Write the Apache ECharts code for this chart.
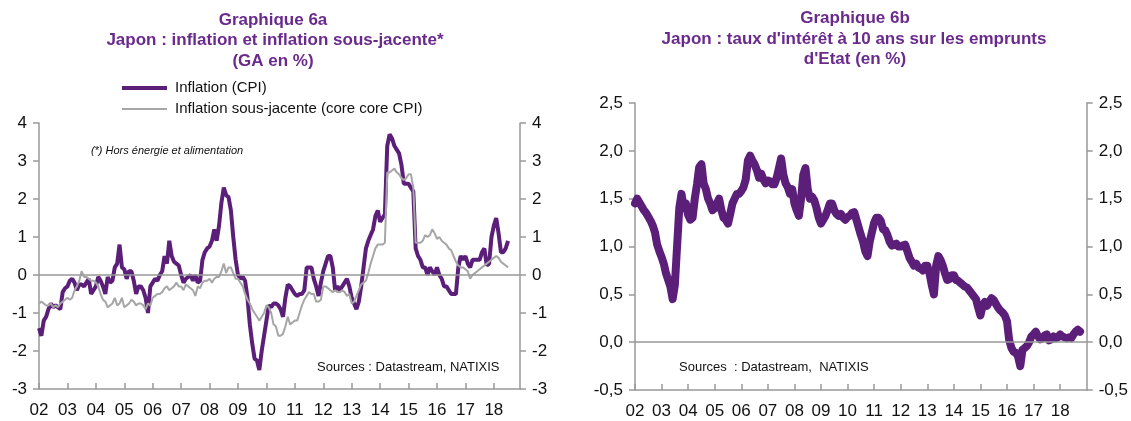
<!DOCTYPE html>
<html>
<head>
<meta charset="utf-8">
<script src="https://cdn.jsdelivr.net/npm/echarts@6/dist/echarts.min.js"></script>
<style>
  html, body { margin: 0; padding: 0; background: #fff; }
  #chart { width: 1131px; height: 421px; }
</style>
</head>
<body>
<div id="chart"></div>
<script>
// Graphique 6a : inflation (GA en %), mensuel, janv. 2002 -> juil. 2018
const cpiStart = 2002
const cpi = [
  -1.4, -1.6, -1.2, -1.1, -0.9, -0.75, -0.85, -0.8, -0.85, -0.9, -0.45, -0.35,
  -0.3, -0.15, -0.1, -0.2, -0.4, -0.25, -0.25, -0.3, -0.2, -0.1, -0.5, -0.4,
  -0.3, -0.05, -0.15, -0.3, -0.5, -0.05, -0.2, -0.15, 0.2, 0.3, 0.8, 0.2,
  0.15, -0.1, 0.1, 0.1, -0.15, -0.5, -0.3, -0.3, -0.4, -0.6, -1.0, -0.3,
  -0.2, -0.1, -0.15, 0.0, 0.1, 0.5, 0.3, 0.9, 0.5, 0.35, 0.3, 0.25,
  0.0, -0.2, -0.1, -0.05, 0.0, -0.15, 0.0, -0.2, -0.15, 0.4, 0.6, 0.7,
  0.75, 0.9, 1.2, 0.9, 1.3, 1.9, 2.3, 2.1, 2.05, 1.7, 1.0, 0.4,
  0.0, -0.1, -0.05, -0.15, -0.6, -1.3, -1.8, -2.2, -2.25, -2.5, -2.0, -1.6,
  -1.2, -0.8, -0.85, -0.75, -0.75, -0.8, -0.9, -1.1, -0.6, -0.25, -0.3, -0.4,
  -0.5, -0.55, -0.5, -0.5, -0.4, 0.2, 0.2, 0.2, -0.1, -0.3, -0.55, -0.2,
  0.1, 0.3, 0.5, 0.5, 0.2, -0.4, -0.3, -0.4, -0.3, -0.2, -0.1, -0.3,
  -0.6, -0.75, -0.9, -0.7, -0.3, 0.2, 0.7, 0.9, 1.05, 1.2, 1.55, 1.7,
  1.4, 1.5, 1.6, 3.4, 3.7, 3.6, 3.4, 3.3, 3.2, 2.9, 2.4, 2.4,
  2.4, 2.3, 2.2, 0.7, 0.5, 0.4, 0.2, 0.2, 0.0, 0.2, 0.1, 0.0,
  0.2, 0.0, -0.1, -0.3, -0.3, -0.4, -0.5, -0.5, -0.5, 0.2, 0.5, 0.4,
  0.5, 0.3, 0.2, 0.4, 0.4, 0.4, 0.4, 0.6, 0.7, 0.25, 0.3, 1.0,
  1.3, 1.5, 1.1, 0.6, 0.6, 0.7, 0.9
]
const coreCore = [
  -0.75, -0.7, -0.75, -0.8, -0.8, -0.75, -0.85, -0.8, -0.85, -0.75, -0.7, -0.65,
  -0.6, -0.65, -0.6, -0.4, -0.3, -0.15, 0.1, -0.05, -0.05, -0.1, -0.15, -0.15,
  -0.2, -0.3, -0.5, -0.65, -0.7, -0.85, -0.8, -0.75, -0.6, -0.8, -0.75, -0.6,
  -0.85, -0.8, -0.75, -0.65, -0.7, -0.8, -0.75, -0.75, -0.8, -0.9, -0.75, -0.8,
  -0.6, -0.55, -0.5, -0.5, -0.45, -0.35, -0.3, -0.4, -0.35, -0.3, -0.2, -0.3,
  -0.3, -0.4, -0.25, -0.3, -0.35, -0.4, -0.55, -0.3, -0.35, -0.2, -0.15, -0.15,
  -0.1, -0.2, -0.1, -0.05, -0.05, 0.1, 0.3, 0.05, 0.2, 0.2, 0.05, -0.1,
  -0.1, -0.2, -0.3, -0.5, -0.65, -0.75, -0.9, -1.0, -1.1, -1.2, -1.1, -1.0,
  -0.8, -0.85, -1.0, -1.3, -1.35, -1.6, -1.6, -1.55, -1.35, -1.1, -1.3, -1.25,
  -1.2, -1.2, -1.0, -0.8, -0.65, -0.55, -0.45, -0.5, -0.5, -0.7, -0.7, -0.65,
  -0.3, -0.3, -0.35, -0.4, -0.45, -0.4, -0.45, -0.45, -0.4, -0.45, -0.55, -0.5,
  -0.75, -0.7, -0.55, -0.4, -0.25, -0.2, -0.15, 0.05, 0.3, 0.5, 0.7, 0.8,
  0.8, 0.8, 0.85, 2.7, 2.7, 2.75, 2.8, 2.7, 2.65, 2.55, 2.5, 2.55,
  2.65, 2.65, 2.3, 0.85, 0.85, 0.85, 0.9, 1.05, 1.0, 1.05, 1.2, 1.1,
  0.95, 1.0, 0.9, 0.85, 0.8, 0.7, 0.65, 0.5, 0.35, 0.25, 0.2, 0.2,
  0.15, 0.1, -0.1, 0.0, 0.05, 0.1, 0.15, 0.2, 0.25, 0.3, 0.35, 0.4,
  0.45, 0.5, 0.45, 0.35, 0.3, 0.25, 0.2
]

// Graphique 6b : taux 10 ans (en %), mensuel, janv. 2002 -> oct. 2018
const yieldStart = 2002
const jgb10 = [
  1.45, 1.5, 1.46, 1.42, 1.38, 1.35, 1.31, 1.27, 1.22, 1.15, 1.02, 0.95,
  0.89, 0.82, 0.72, 0.65, 0.58, 0.45, 0.6, 1.0, 1.4, 1.55, 1.4, 1.45,
  1.33, 1.28, 1.3, 1.5, 1.65, 1.83, 1.86, 1.66, 1.6, 1.5, 1.45, 1.38,
  1.4, 1.45, 1.5, 1.38, 1.3, 1.28, 1.24, 1.34, 1.45, 1.5, 1.55, 1.55,
  1.58, 1.62, 1.7, 1.9, 1.95, 1.9, 1.86, 1.8, 1.72, 1.76, 1.7, 1.66,
  1.69, 1.68, 1.65, 1.65, 1.72, 1.82, 1.92, 1.75, 1.66, 1.62, 1.55, 1.6,
  1.45, 1.38, 1.32, 1.5, 1.75, 1.82, 1.6, 1.5, 1.52, 1.48, 1.4, 1.3,
  1.24, 1.28, 1.32, 1.38, 1.45, 1.45, 1.38, 1.34, 1.32, 1.34, 1.3, 1.28,
  1.31, 1.32, 1.35, 1.36, 1.28, 1.2, 1.12, 1.05, 0.95, 0.9, 1.05, 1.15,
  1.25, 1.3, 1.3, 1.27, 1.18, 1.17, 1.12, 1.05, 1.01, 1.02, 1.03, 1.0,
  1.0, 1.01, 1.02, 0.95, 0.88, 0.84, 0.8, 0.82, 0.78, 0.77, 0.75, 0.8,
  0.8, 0.72, 0.6, 0.5, 0.8, 0.9, 0.86, 0.8, 0.72, 0.65, 0.66, 0.7,
  0.7, 0.65, 0.64, 0.62, 0.6, 0.58, 0.57, 0.54, 0.51, 0.48, 0.45, 0.36,
  0.28, 0.38, 0.42, 0.38, 0.42, 0.46, 0.44, 0.4, 0.36, 0.33, 0.31, 0.28,
  0.22, 0.02, -0.06, -0.1, -0.11, -0.15, -0.25, -0.08, -0.06, -0.04, 0.0, 0.06,
  0.08, 0.11, 0.06, 0.03, 0.04, 0.07, 0.08, 0.02, 0.03, 0.06, 0.04, 0.05,
  0.08, 0.06, 0.05, 0.04, 0.05, 0.04, 0.08, 0.11, 0.13, 0.11
]

const yearTicks = ['02', '03', '04', '05', '06', '07', '08', '09', '10', '11', '12', '13', '14', '15', '16', '17', '18']

const purple = '#5b1f7a'
const titleColor = '#6a2a8c'
const grey = '#a6a6a6'
const axisGrey = '#999999'
const font = 'Liberation Sans, Arial, sans-serif'

// [année décimale, valeur]
function monthly (start, values) {
  return values.map((v, i) => [start + i / 12, v])
}

function xAxisFor (gridIndex, max) {
  return {
    type: 'value',
    gridIndex: gridIndex,
    min: 2002,
    max: max,
    interval: 1,
    axisLine: { show: true, onZero: false, lineStyle: { color: axisGrey, width: 1.5 } },
    axisTick: { show: true, inside: true, length: 6, lineStyle: { color: axisGrey, width: 1.5 } },
    axisLabel: {
      color: '#111',
      fontFamily: font,
      fontSize: 17,
      margin: 13,
      showMaxLabel: false,
      formatter: v => yearTicks[Math.round(v) - 2002] || ''
    },
    splitLine: { show: false }
  }
}

function yAxisFor (gridIndex, position, min, max, interval, fmt) {
  return {
    type: 'value',
    gridIndex: gridIndex,
    position: position,
    min: min,
    max: max,
    interval: interval,
    axisLine: { show: true, lineStyle: { color: axisGrey, width: 1.5 } },
    axisTick: { show: true, length: 6, lineStyle: { color: axisGrey, width: 1.5 } },
    axisLabel: { color: '#111', fontFamily: font, fontSize: 17, margin: 12, formatter: fmt },
    splitLine: { show: false }
  }
}

const intFmt = v => String(v)
const commaFmt = v => v.toFixed(1).replace('.', ',')

const zeroLine = {
  silent: true,
  symbol: 'none',
  label: { show: false },
  lineStyle: { color: axisGrey, width: 1.5, type: 'solid' },
  data: [{ yAxis: 0 }]
}

function text (x, y, str, style) {
  return {
    type: 'text',
    x: x,
    y: y,
    style: Object.assign({ text: str, fontFamily: font, fill: '#111', verticalAlign: 'middle' }, style)
  }
}

const titleStyle = { fill: titleColor, fontWeight: 'bold', fontSize: 17, align: 'center' }

const chart = echarts.init(document.getElementById('chart'))

const option = {
  animation: false,
  backgroundColor: '#fff',
  grid: [
    { left: 39, right: 611, top: 123, bottom: 32 },
    { left: 635, right: 44, top: 103, bottom: 31 }
  ],
  xAxis: [xAxisFor(0, 2018.92), xAxisFor(1, 2019.0)],
  yAxis: [
    yAxisFor(0, 'left', -3, 4, 1, intFmt),
    yAxisFor(0, 'right', -3, 4, 1, intFmt),
    yAxisFor(1, 'left', -0.5, 2.5, 0.5, commaFmt),
    yAxisFor(1, 'right', -0.5, 2.5, 0.5, commaFmt)
  ],
  series: [
    {
      name: 'Inflation (CPI)',
      type: 'line',
      xAxisIndex: 0,
      yAxisIndex: 0,
      data: monthly(cpiStart, cpi),
      showSymbol: false,
      lineStyle: { color: purple, width: 4 },
      itemStyle: { color: purple },
      z: 3,
      markLine: zeroLine
    },
    {
      name: 'Inflation sous-jacente (core core CPI)',
      type: 'line',
      xAxisIndex: 0,
      yAxisIndex: 0,
      data: monthly(cpiStart, coreCore),
      showSymbol: false,
      lineStyle: { color: grey, width: 2 },
      itemStyle: { color: grey },
      z: 4
    },
    {
      name: 'Taux 10 ans',
      type: 'line',
      xAxisIndex: 1,
      yAxisIndex: 2,
      data: monthly(yieldStart, jgb10),
      showSymbol: false,
      lineStyle: { color: purple, width: 8, join: 'round', cap: 'round' },
      itemStyle: { color: purple },
      z: 3,
      markLine: zeroLine
    }
  ],
  graphic: [
    // titres
    text(273, 20, 'Graphique 6a', titleStyle),
    text(275, 40, 'Japon : inflation et inflation sous-jacente*', titleStyle),
    text(273, 61, '(GA en %)', titleStyle),
    text(855, 18, 'Graphique 6b', titleStyle),
    text(854, 39, "Japon : taux d'intérêt à 10 ans sur les emprunts", titleStyle),
    text(855, 59, "d'Etat (en %)", titleStyle),
    // légende
    { type: 'line', shape: { x1: 122, y1: 88, x2: 167, y2: 88 }, style: { stroke: purple, lineWidth: 4 } },
    text(175, 88, 'Inflation (CPI)', { fontSize: 15 }),
    { type: 'line', shape: { x1: 122, y1: 109, x2: 167, y2: 109 }, style: { stroke: grey, lineWidth: 2 } },
    text(175, 109, 'Inflation sous-jacente (core core CPI)', { fontSize: 15 }),
    // notes
    text(167, 151, '(*) Hors énergie et alimentation', { fontSize: 11, fontStyle: 'italic', align: 'center' }),
    text(317, 367, 'Sources : Datastream, NATIXIS', { fontSize: 13 }),
    text(679, 367, 'Sources  : Datastream,  NATIXIS', { fontSize: 13 })
  ]
}

chart.setOption(option)
</script>
</body>
</html>
